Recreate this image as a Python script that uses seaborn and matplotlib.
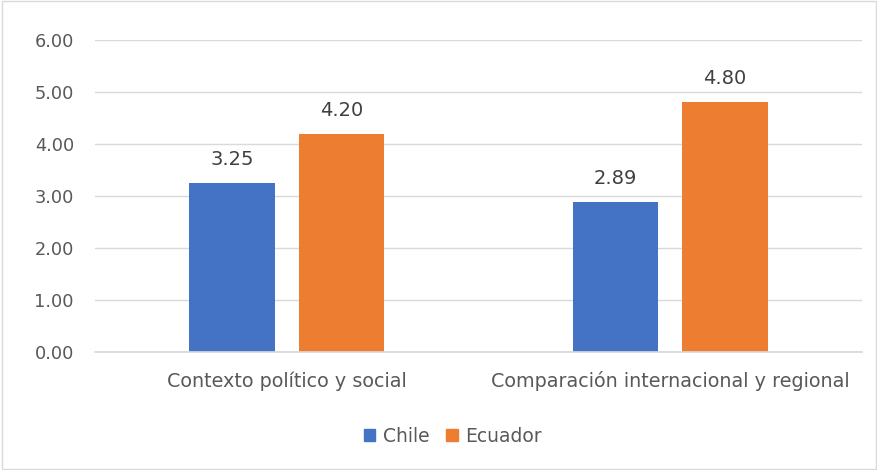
import pandas as pd
import seaborn as sns
import matplotlib.pyplot as plt
from matplotlib.patches import Rectangle

# Datos
categorias = ["Contexto político y social", "Comparación internacional y regional"]
chile = [3.25, 2.89]
ecuador = [4.20, 4.80]
paises = ["Chile", "Ecuador"]
colores = ["#4472C4", "#ED7D31"]

df = pd.DataFrame({
    "categoria": categorias * 2,
    "pais": [paises[0]] * 2 + [paises[1]] * 2,
    "valor": chile + ecuador,
})

sns.set_theme(style="white")
plt.rcParams["font.family"] = ["DejaVu Sans"]

fig = plt.figure(figsize=(8.78, 4.70), dpi=100)
ax = fig.add_axes([0.108, 0.251, 0.874, 0.664])

sns.barplot(data=df, x="categoria", y="valor", hue="pais", palette=colores,
            width=0.57, gap=0.22, ax=ax, legend=False, saturation=1, linewidth=0)

for cont in ax.containers:
    ax.bar_label(cont, fmt="%.2f", padding=10, fontsize=14, color="#404040")

ax.set_ylim(0, 6)
ax.set_yticks([0, 1, 2, 3, 4, 5, 6])
ax.set_yticklabels([f"{v:.2f}" for v in range(7)])
ax.yaxis.grid(True, color="#D9D9D9", linewidth=1)
ax.set_axisbelow(True)
ax.set_xlabel("")
ax.set_ylabel("")
for s in ["top", "right", "left"]:
    ax.spines[s].set_visible(False)
ax.spines["bottom"].set_color("#D9D9D9")
ax.tick_params(axis="both", colors="#595959", length=0)
ax.tick_params(axis="x", pad=14, labelsize=13.8)
ax.tick_params(axis="y", pad=15, labelsize=12.8)

handles = [Rectangle((0, 0), 1, 1, color=c) for c in colores]
fig.legend(handles, paises, loc="center", bbox_to_anchor=(0.516, 0.072), ncol=2,
           frameon=False, fontsize=13.5, handlelength=0.6, handleheight=0.6,
           handletextpad=0.4, columnspacing=0.9, labelcolor="#595959")

fig.patches.append(Rectangle((0.002, 0.002), 0.996, 0.996, transform=fig.transFigure,
                             fill=False, edgecolor="#D9D9D9", linewidth=1))

fig.savefig("out.png", dpi=100)
